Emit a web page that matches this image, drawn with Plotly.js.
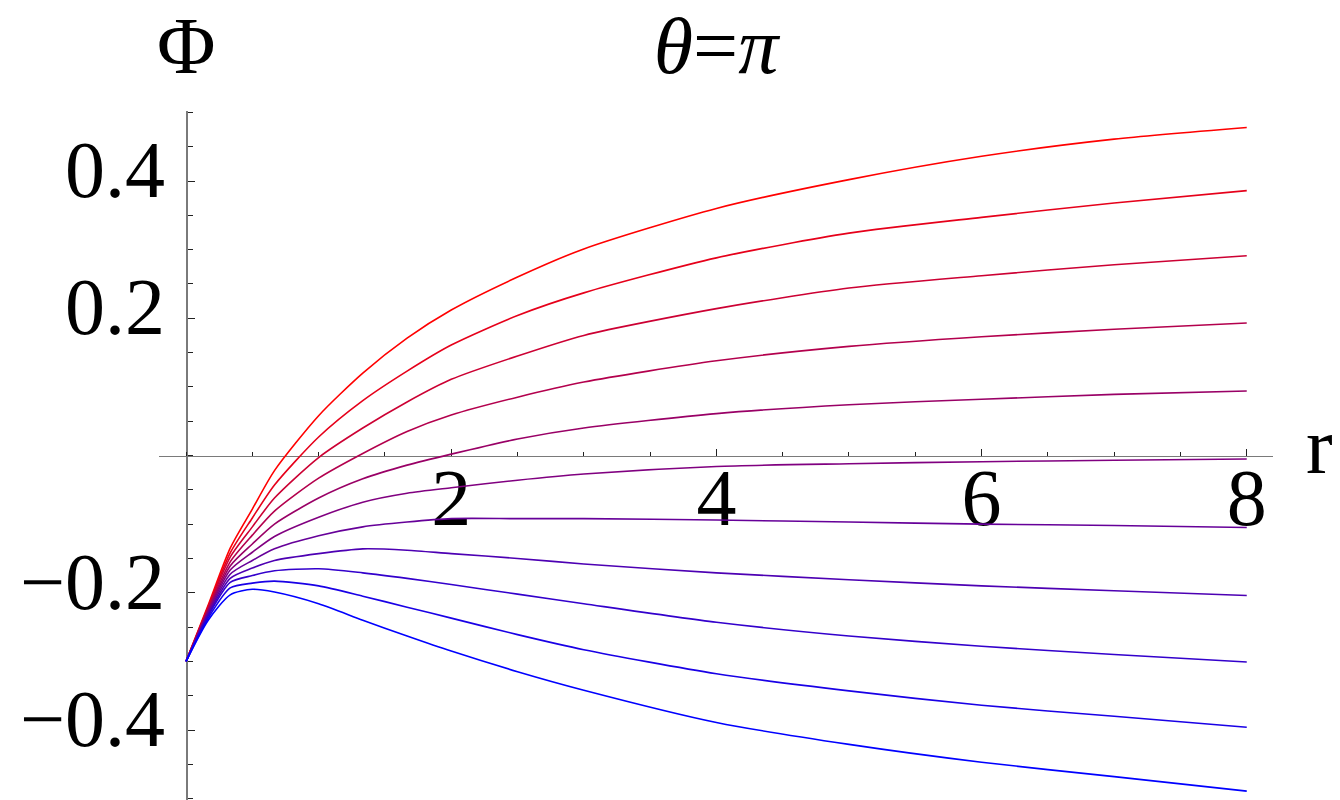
<!DOCTYPE html>
<html>
<head>
<meta charset="utf-8">
<script src="https://cdn.plot.ly/plotly-3.0.1.min.js"></script>
<style>
  html, body { margin: 0; padding: 0; background: #ffffff; }
  #chart { width: 1340px; height: 800px; }
</style>
</head>
<body>
<div id="chart"></div>
<script>
// radial coordinate samples
const r = [0, 0.167, 0.333, 0.5, 0.667, 1, 1.333, 1.667, 2, 2.5, 3, 4, 5, 6, 7, 8];

// potential profiles along theta = pi, top (red) to bottom (blue)
const phi1  = [-0.300, -0.218, -0.135, -0.078, -0.022,  0.058,  0.120,  0.171,  0.212,  0.260,  0.301,  0.360,  0.402,  0.436,  0.461,  0.478];
const phi2  = [-0.300, -0.220, -0.142, -0.091, -0.043,  0.027,  0.080,  0.123,  0.161,  0.204,  0.237,  0.288,  0.324,  0.347,  0.368,  0.386];
const phi3  = [-0.300, -0.222, -0.148, -0.104, -0.062, -0.003,  0.040,  0.078,  0.111,  0.145,  0.175,  0.214,  0.244,  0.262,  0.278,  0.291];
const phi4  = [-0.300, -0.224, -0.155, -0.116, -0.081, -0.033,  0.003,  0.035,  0.059,  0.085,  0.107,  0.138,  0.159,  0.173,  0.184,  0.193];
const phi5  = [-0.300, -0.226, -0.161, -0.129, -0.100, -0.062, -0.034, -0.014,  0.002,  0.024,  0.040,  0.061,  0.074,  0.082,  0.089,  0.094];
const phi6  = [-0.300, -0.228, -0.167, -0.141, -0.118, -0.090, -0.068, -0.055, -0.047, -0.036, -0.027, -0.016, -0.012, -0.009, -0.007, -0.005];
const phi7  = [-0.300, -0.230, -0.173, -0.153, -0.136, -0.117, -0.104, -0.097, -0.092, -0.092, -0.092, -0.094, -0.097, -0.100, -0.102, -0.105];
const phi8  = [-0.300, -0.232, -0.179, -0.164, -0.153, -0.143, -0.136, -0.138, -0.143, -0.150, -0.158, -0.171, -0.181, -0.190, -0.197, -0.204];
const phi9  = [-0.300, -0.234, -0.185, -0.175, -0.168, -0.165, -0.171, -0.179, -0.188, -0.202, -0.216, -0.243, -0.263, -0.278, -0.290, -0.301];
const phi10 = [-0.300, -0.237, -0.193, -0.186, -0.183, -0.190, -0.205, -0.221, -0.237, -0.261, -0.283, -0.318, -0.343, -0.364, -0.380, -0.396];
const phi11 = [-0.300, -0.240, -0.203, -0.195, -0.199, -0.216, -0.240, -0.263, -0.285, -0.315, -0.342, -0.389, -0.421, -0.447, -0.468, -0.489];

const profiles = [phi1, phi2, phi3, phi4, phi5, phi6, phi7, phi8, phi9, phi10, phi11];

// axis ticks
const xTickVals = [2, 4, 6, 8];
const xTickText = ['2', '4', '6', '8'];
const yTickVals = [-0.4, -0.2, 0.2, 0.4];
const yTickText = ['\u22120.4', '\u22120.2', '0.2', '0.4'];

const SERIF = '"Liberation Serif", "Times New Roman", serif';

// blend from red to blue across the family of curves
function blend(i, n) {
  const t = i / (n - 1);
  const red = Math.round(255 * (1 - t));
  const blue = Math.round(255 * t);
  return 'rgb(' + red + ',0,' + blue + ')';
}

const traces = profiles.map((ys, i) => ({
  type: 'scatter',
  mode: 'lines',
  x: r,
  y: ys,
  line: { color: blend(i, profiles.length), width: 1.6, shape: 'spline', smoothing: 0.7 },
  hoverinfo: 'x+y',
  showlegend: false
}));

const xMin = -0.204, xMax = 8.198;
const yMin = -0.502, yMax = 0.502;

const layout = {
  width: 1340,
  height: 800,
  paper_bgcolor: '#ffffff',
  plot_bgcolor: '#ffffff',
  margin: { l: 159, r: 67, t: 111, b: 0, pad: 0 },
  showlegend: false,
  title: {
    text: '<i>\u03b8</i>=<i>\u03c0</i>',
    font: { family: SERIF, size: 80, color: '#000000' },
    x: 0.5, xref: 'paper', xanchor: 'center',
    y: 0.944, yref: 'container', yanchor: 'middle'
  },
  xaxis: {
    range: [xMin, xMax],
    anchor: 'free',
    position: (0 - yMin) / (yMax - yMin),
    showgrid: false,
    zeroline: false,
    showline: true,
    linecolor: '#7a7a7a',
    linewidth: 1.6,
    layer: 'below traces',
    tickmode: 'array',
    tickvals: xTickVals,
    ticktext: xTickText,
    ticks: 'inside',
    ticklen: 7,
    tickwidth: 1,
    tickcolor: '#222222',
    minor: { dtick: 0.5, tick0: 0, ticks: 'inside', ticklen: 4, tickwidth: 1, tickcolor: '#222222', showgrid: false },
    tickfont: { family: SERIF, size: 80, color: '#000000' },
    ticklabelstandoff: -28,
    automargin: false,
    fixedrange: true
  },
  yaxis: {
    range: [yMin, yMax],
    anchor: 'free',
    position: (0 - xMin) / (xMax - xMin),
    showgrid: false,
    zeroline: false,
    showline: true,
    linecolor: '#7a7a7a',
    linewidth: 1.6,
    layer: 'below traces',
    tickmode: 'array',
    tickvals: yTickVals,
    ticktext: yTickText,
    ticks: 'inside',
    ticklen: 7,
    tickwidth: 1,
    tickcolor: '#222222',
    minor: { dtick: 0.05, tick0: 0, ticks: 'inside', ticklen: 5, tickwidth: 1, tickcolor: '#222222', showgrid: false },
    tickfont: { family: SERIF, size: 80, color: '#000000' },
    ticklabelstandoff: 5,
    ticklabelshift: -12,
    automargin: false,
    fixedrange: true
  },
  annotations: [
    {
      text: '\u03a6',
      xref: 'x', x: 0, xanchor: 'center',
      yref: 'paper', y: 1.0943, yanchor: 'middle',
      showarrow: false,
      font: { family: SERIF, size: 80, color: '#000000' }
    },
    {
      text: 'r',
      xref: 'paper', x: 1.042, xanchor: 'center',
      yref: 'paper', y: 0.5138, yanchor: 'middle',
      showarrow: false,
      font: { family: SERIF, size: 80, color: '#000000' }
    }
  ]
};

Plotly.newPlot('chart', traces, layout, { displayModeBar: false, staticPlot: true });
</script>
</body>
</html>
